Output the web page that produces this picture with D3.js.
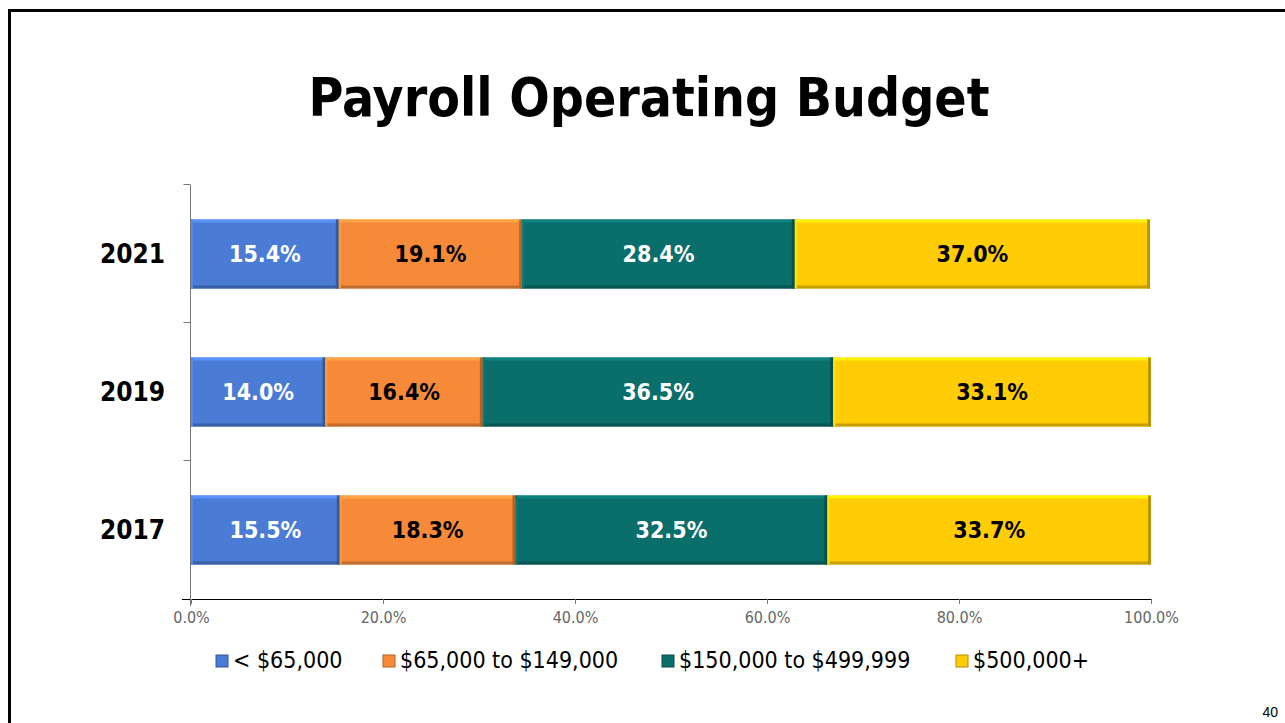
<!DOCTYPE html>
<meta charset="utf-8">
<style>
body { margin: 0; background: #fff; }
svg { display: block; }
.title { font-family: "DejaVu Sans Condensed", "DejaVu Sans", sans-serif; font-weight: bold; }
.ax text { font-family: "DejaVu Sans Condensed", "DejaVu Sans", sans-serif; fill: #666; font-size: 16px; }
.ylab { font-family: "DejaVu Sans Condensed", "DejaVu Sans", sans-serif; font-weight: bold; font-size: 26px; }
.lbl { font-family: "DejaVu Sans Condensed", "DejaVu Sans", sans-serif; font-weight: bold; font-size: 23px; }
.leg { font-family: "DejaVu Sans Condensed", "DejaVu Sans", sans-serif; font-size: 23px; }
</style>
<svg width="1285" height="723"></svg>
<script src="https://d3js.org/d3.v7.min.js"></script>
<script>

// data
var years = ["2021", "2019", "2017"];
var series = ["< $65,000", "$65,000 to $149,000", "$150,000 to $499,999", "$500,000+"];
var v2021 = [15.4, 19.1, 28.4, 37.0];
var v2019 = [14.0, 16.4, 36.5, 33.1];
var v2017 = [15.5, 18.3, 32.5, 33.7];
var ticks = [0, 20, 40, 60, 80, 100];

var colors = ["#4a7bd5", "#f68a38", "#0a6e6b", "#ffcc05"];
var textColors = ["#fff", "#000", "#fff", "#000"];

var svg = d3.select("svg");

// frame (slide border)
svg.append("path")
    .attr("d", "M9.5,1300 L9.5,10.5 L1400,10.5")
    .attr("fill", "none")
    .attr("stroke", "#000")
    .attr("stroke-width", 3);

svg.append("text")
    .attr("class", "title")
    .attr("x", 649).attr("y", 116)
    .attr("text-anchor", "middle")
    .attr("font-size", 53)
    .text("Payroll Operating Budget");

var x = d3.scaleLinear().domain([0, 100]).range([191, 1151]);
var y = d3.scaleBand().domain(years).range([185, 599]).paddingInner(0.5).paddingOuter(0.25);

var rows = years.map(function(yr, i) {
  var vals = [v2021, v2019, v2017][i];
  var acc = 0;
  return vals.map(function(v, j) {
    var seg = {year: yr, s: j, x0: acc, x1: acc + v, v: v};
    acc += v;
    return seg;
  });
});

// axes
var xAxis = svg.append("g")
    .attr("class", "ax")
    .attr("transform", "translate(0,599)")
    .call(d3.axisBottom(x).tickValues(ticks).tickSize(5).tickPadding(8)
      .tickFormat(function(d) { return d.toFixed(1) + "%"; }));
xAxis.select(".domain").attr("d", "M182,0.5H1151.5V5").attr("stroke", "#000");
xAxis.selectAll(".tick line").attr("stroke", "#777");

var yAxis = svg.append("g").attr("class", "ax").attr("transform", "translate(190.5,0)");
yAxis.append("line").attr("y1", 185).attr("y2", 606).attr("stroke", "#777");
yAxis.selectAll("line.t")
    .data(d3.range(3))
    .enter().append("line")
    .attr("x1", -7).attr("x2", 0)
    .attr("y1", function(d) { return y("2021") - y.step() * y.paddingOuter() + d * y.step() - 0.5; })
    .attr("y2", function(d) { return y("2021") - y.step() * y.paddingOuter() + d * y.step() - 0.5; })
    .attr("stroke", "#777");

svg.selectAll("text.ylab")
    .data(years)
    .enter().append("text")
    .attr("class", "ylab")
    .attr("x", 165)
    .attr("y", function(d) { return y(d) + y.bandwidth() / 2 + 9; })
    .attr("text-anchor", "end")
    .text(function(d) { return d; });

// bars with bevel look
var segs = svg.append("g").selectAll("g.seg")
    .data(d3.merge(rows))
    .enter().append("g");

segs.append("rect")
    .attr("x", function(d) { return x(d.x0); })
    .attr("y", function(d) { return y(d.year); })
    .attr("width", function(d) { return x(d.x1) - x(d.x0); })
    .attr("height", y.bandwidth())
    .attr("fill", function(d) { return colors[d.s]; });

segs.append("rect")
    .attr("x", function(d) { return x(d.x0); })
    .attr("y", function(d) { return y(d.year); })
    .attr("width", function(d) { return x(d.x1) - x(d.x0); })
    .attr("height", 3)
    .attr("fill", function(d) { return d3.color(colors[d.s]).brighter(0.5); });

segs.append("rect")
    .attr("x", function(d) { return x(d.x0); })
    .attr("y", function(d) { return y(d.year) + y.bandwidth() - 3; })
    .attr("width", function(d) { return x(d.x1) - x(d.x0); })
    .attr("height", 3)
    .attr("fill", function(d) { return d3.color(colors[d.s]).darker(0.7); });

segs.append("rect")
    .attr("x", function(d) { return x(d.x1) - 3; })
    .attr("y", function(d) { return y(d.year); })
    .attr("width", 3)
    .attr("height", y.bandwidth())
    .attr("fill", function(d) { return d3.color(colors[d.s]).darker(0.9); });

segs.append("rect")
    .attr("x", function(d) { return x(d.x0); })
    .attr("y", function(d) { return y(d.year); })
    .attr("width", 2)
    .attr("height", y.bandwidth())
    .attr("fill", function(d) { return d3.color(colors[d.s]).brighter(0.3); });

segs.append("text")
    .attr("class", "lbl")
    .attr("x", function(d) { return (x(d.x0) + x(d.x1)) / 2; })
    .attr("y", function(d) { return y(d.year) + y.bandwidth() / 2 + 8; })
    .attr("text-anchor", "middle")
    .attr("fill", function(d) { return textColors[d.s]; })
    .text(function(d) { return d.v.toFixed(1) + "%"; });

// legend
var legX = [216, 383, 662, 956];
var leg = svg.selectAll("g.leg")
    .data(series)
    .enter().append("g")
    .attr("transform", function(d, i) { return "translate(" + legX[i] + ",655)"; });
leg.append("rect")
    .attr("width", 12).attr("height", 12)
    .attr("fill", function(d, i) { return colors[i]; })
    .attr("stroke", function(d, i) { return d3.color(colors[i]).darker(1); });
leg.append("text")
    .attr("class", "leg")
    .attr("x", 17).attr("y", 13)
    .text(function(d) { return d; });

svg.append("text")
    .attr("x", 1278).attr("y", 717)
    .attr("text-anchor", "end")
    .attr("font-family", "Liberation Sans, Arial, sans-serif")
    .attr("font-size", 14)
    .text("40");

</script>
